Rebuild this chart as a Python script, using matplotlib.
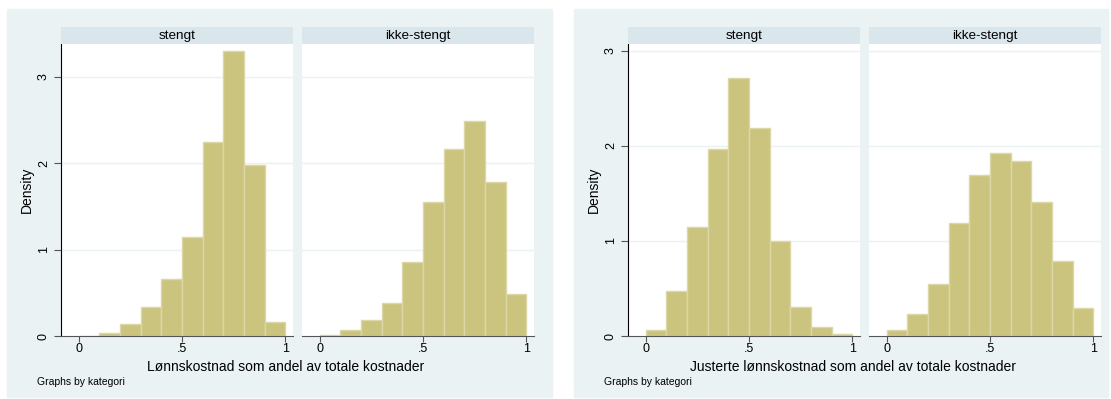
"""Histogrammer av lønnskostnadsandel etter kategori"""

import matplotlib.pyplot as plt
from matplotlib.patches import Rectangle

plt.rcParams["font.family"] = ["Liberation Sans", "DejaVu Sans"]

# Data (tetthet per søyle, bredde 0.1)
kanter = [0.0, 0.1, 0.2, 0.3, 0.4, 0.5, 0.6, 0.7, 0.8, 0.9, 1.0]
kategorier = ["stengt", "ikke-stengt"]

lonn_stengt = [0.005, 0.04, 0.14, 0.34, 0.66, 1.15, 2.24, 3.30, 1.98, 0.16]
lonn_ikke_stengt = [0.01, 0.07, 0.19, 0.38, 0.86, 1.55, 2.16, 2.49, 1.78, 0.49]

just_stengt = [0.06, 0.47, 1.15, 1.97, 2.71, 2.19, 1.00, 0.31, 0.09, 0.02]
just_ikke_stengt = [0.06, 0.23, 0.55, 1.19, 1.69, 1.92, 1.84, 1.41, 0.79, 0.29]

xticks = [0, 0.5, 1]
xticklabels = ["0", ".5", "1"]

# Farger (Stata s2color)
BG = "#EAF2F3"
STRIPE = "#D9E6EB"
BAR = "#CBC47F"
BAR_KANT = "#DCD7A6"

W, H = 1111, 399
fig = plt.figure(figsize=(W / 100, H / 100), dpi=100)


def boks(x0, y0, x1, y1):
    """Piksler (fra øvre venstre hjørne) -> figurkoordinater"""
    return [x0 / W, 1 - y1 / H, (x1 - x0) / W, (y1 - y0) / H]


def graf(x0, x1, paneler, yticks, ymax, xlabel, xlabel_x):
    # Bakgrunn
    fig.patches.append(Rectangle((x0 / W, 1 - 397 / H), (x1 - x0) / W, (397 - 9) / H,
                                 transform=fig.transFigure, color=BG, zorder=-5))
    ax_x = x0 + 54
    bredde, gap = 232, 9
    for i, (navn, verdier) in enumerate(zip(kategorier, paneler)):
        left = ax_x + i * (bredde + gap)
        ax = fig.add_axes(boks(left, 44, left + bredde, 336))
        ax.set_facecolor("white")
        ax.bar(kanter[:-1], verdier, width=0.1, align="edge", color=BAR,
               edgecolor=BAR_KANT, linewidth=1.0, zorder=2)
        ax.set_xlim(-0.085, 1.037)
        ax.set_ylim(0, ymax)
        ax.set_xticks(xticks)
        ax.set_xticklabels(xticklabels, fontsize=9)
        ax.set_yticks(yticks)
        for y in yticks[1:]:
            ax.axhline(y, color=BG, linewidth=1.0, zorder=1)
        for s in ["top", "right"]:
            ax.spines[s].set_visible(False)
        ax.spines["bottom"].set_color("#555555")
        ax.spines["bottom"].set_zorder(3)
        ax.tick_params(axis="x", length=4, width=0.8, color="#555555", pad=1)
        if i == 0:
            ax.spines["left"].set_color("black")
            ax.set_yticklabels([str(t) for t in yticks], rotation=90, va="center", fontsize=9)
            ax.tick_params(axis="y", length=5, width=0.8, color="#555555", pad=3)
        else:
            ax.spines["left"].set_visible(False)
            ax.tick_params(axis="y", left=False, labelleft=False)

        # Overskriftsstripe
        sax = fig.add_axes(boks(left, 27, left + bredde, 44))
        sax.set_facecolor(STRIPE)
        sax.set_xticks([])
        sax.set_yticks([])
        for s in sax.spines.values():
            s.set_visible(False)
        sax.text(0.5, 0.5, navn, ha="center", va="center", fontsize=9.7,
                 transform=sax.transAxes)

    # Tekster
    fig.text((x0 + 20) / W, 1 - 190 / H, "Density", rotation=90,
             ha="center", va="center", fontsize=10)
    fig.text(xlabel_x / W, 1 - 367 / H, xlabel, ha="center", va="center", fontsize=10)
    fig.text((x0 + 30) / W, 1 - 382 / H, "Graphs by kategori", ha="left",
             va="center", fontsize=7.5)


graf(7, 552, [lonn_stengt, lonn_ikke_stengt], [0, 1, 2, 3], 3.38,
     "Lønnskostnad som andel av totale kostnader", 286)
graf(574, 1108, [just_stengt, just_ikke_stengt], [0, 1, 2, 3], 3.07,
     "Justerte lønnskostnad som andel av totale kostnader", 853)

plt.savefig("out.png", dpi=100)
plt.close(fig)
